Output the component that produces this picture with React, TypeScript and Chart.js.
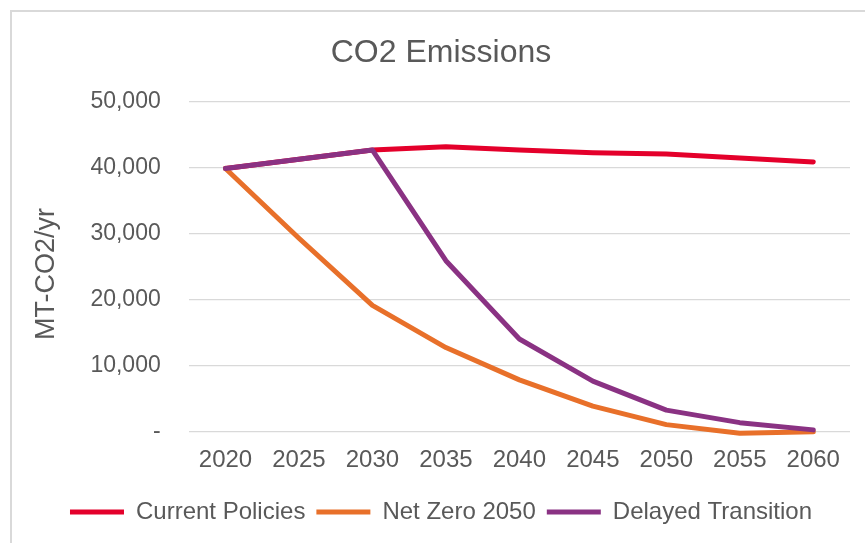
import React, { useEffect, useRef } from "react";
import { Chart, registerables } from "chart.js";

Chart.register(...registerables);

const years = ["2020", "2025", "2030", "2035", "2040", "2045", "2050", "2055", "2060"];
const currentPolicies = [39900, 41300, 42700, 43200, 42700, 42300, 42100, 41500, 40900];
const netZero2050 = [39900, 29300, 19100, 12700, 7800, 3800, 1000, -300, -100];
const delayedTransition = [39900, 41300, 42700, 25900, 14000, 7600, 3200, 1300, 200];

const FONT = "'Liberation Sans', Arial, sans-serif";
const TEXT = "#595959";
const GRID = "#d9d9d9";

export default function App() {
  const ref = useRef<HTMLCanvasElement | null>(null);

  useEffect(() => {
    if (!ref.current) return;
    const common = {
      borderWidth: 5,
      pointRadius: 0,
      borderCapStyle: "round" as const,
      borderJoinStyle: "round" as const,
      clip: false as const,
    };
    const chart = new Chart(ref.current, {
      type: "line",
      data: {
        labels: years,
        datasets: [
          {
            label: "Current Policies",
            data: currentPolicies,
            borderColor: "#E4002B",
            backgroundColor: "#E4002B",
            order: 3,
            ...common,
          },
          {
            label: "Net Zero 2050",
            data: netZero2050,
            borderColor: "#E8702A",
            backgroundColor: "#E8702A",
            order: 2,
            ...common,
          },
          {
            label: "Delayed Transition",
            data: delayedTransition,
            borderColor: "#8A3283",
            backgroundColor: "#8A3283",
            order: 1,
            ...common,
          },
        ],
      },
      options: {
        responsive: false,
        animation: false,
        devicePixelRatio: 1,
        layout: { padding: { left: 32, right: 15, top: 10, bottom: 9 } },
        plugins: {
          tooltip: { enabled: false },
          title: {
            display: true,
            text: "CO2 Emissions",
            color: TEXT,
            font: { family: FONT, size: 32, weight: "normal" },
            padding: { top: 24, bottom: 29.6 },
          },
          legend: {
            position: "bottom",
            labels: {
              color: TEXT,
              font: { family: FONT, size: 24 },
              usePointStyle: true,
              pointStyle: "line",
              pointStyleWidth: 54,
              padding: 11,
              sort: (a: any, b: any) => a.datasetIndex - b.datasetIndex,
            },
          },
        },
        scales: {
          x: {
            offset: true,
            grid: { display: false, drawTicks: false },
            border: { display: false },
            ticks: {
              color: TEXT,
              font: { family: FONT, size: 24 },
              padding: 14.5,
              maxRotation: 0,
            },
          },
          y: {
            min: 0,
            max: 50000,
            grid: { color: GRID, lineWidth: 1.3, drawTicks: false },
            border: { display: false },
            ticks: {
              stepSize: 10000,
              color: TEXT,
              font: { family: FONT, size: 23 },
              padding: 28,
              callback: (v: any) => (Number(v) === 0 ? "-" : Number(v).toLocaleString("en-US")),
            },
            title: {
              display: true,
              text: "MT-CO2/yr  ",
              color: TEXT,
              font: { family: FONT, size: 27 },
              padding: { top: -2, bottom: 0 },
            },
          },
        },
      },
    });
    return () => chart.destroy();
  }, []);

  return (
    <div
      style={{
        position: "fixed",
        left: 0,
        top: 0,
        width: 865,
        height: 543,
        overflow: "hidden",
        background: "#fff",
      }}
    >
      <div
        style={{
          position: "absolute",
          left: 10,
          top: 10,
          width: 900,
          height: 600,
          border: "2px solid #d9d9d9",
          boxSizing: "border-box",
        }}
      />
      <canvas
        ref={ref}
        width={865}
        height={543}
        style={{ position: "absolute", left: 0, top: 0, width: 865, height: 543 }}
      />
    </div>
  );
}
